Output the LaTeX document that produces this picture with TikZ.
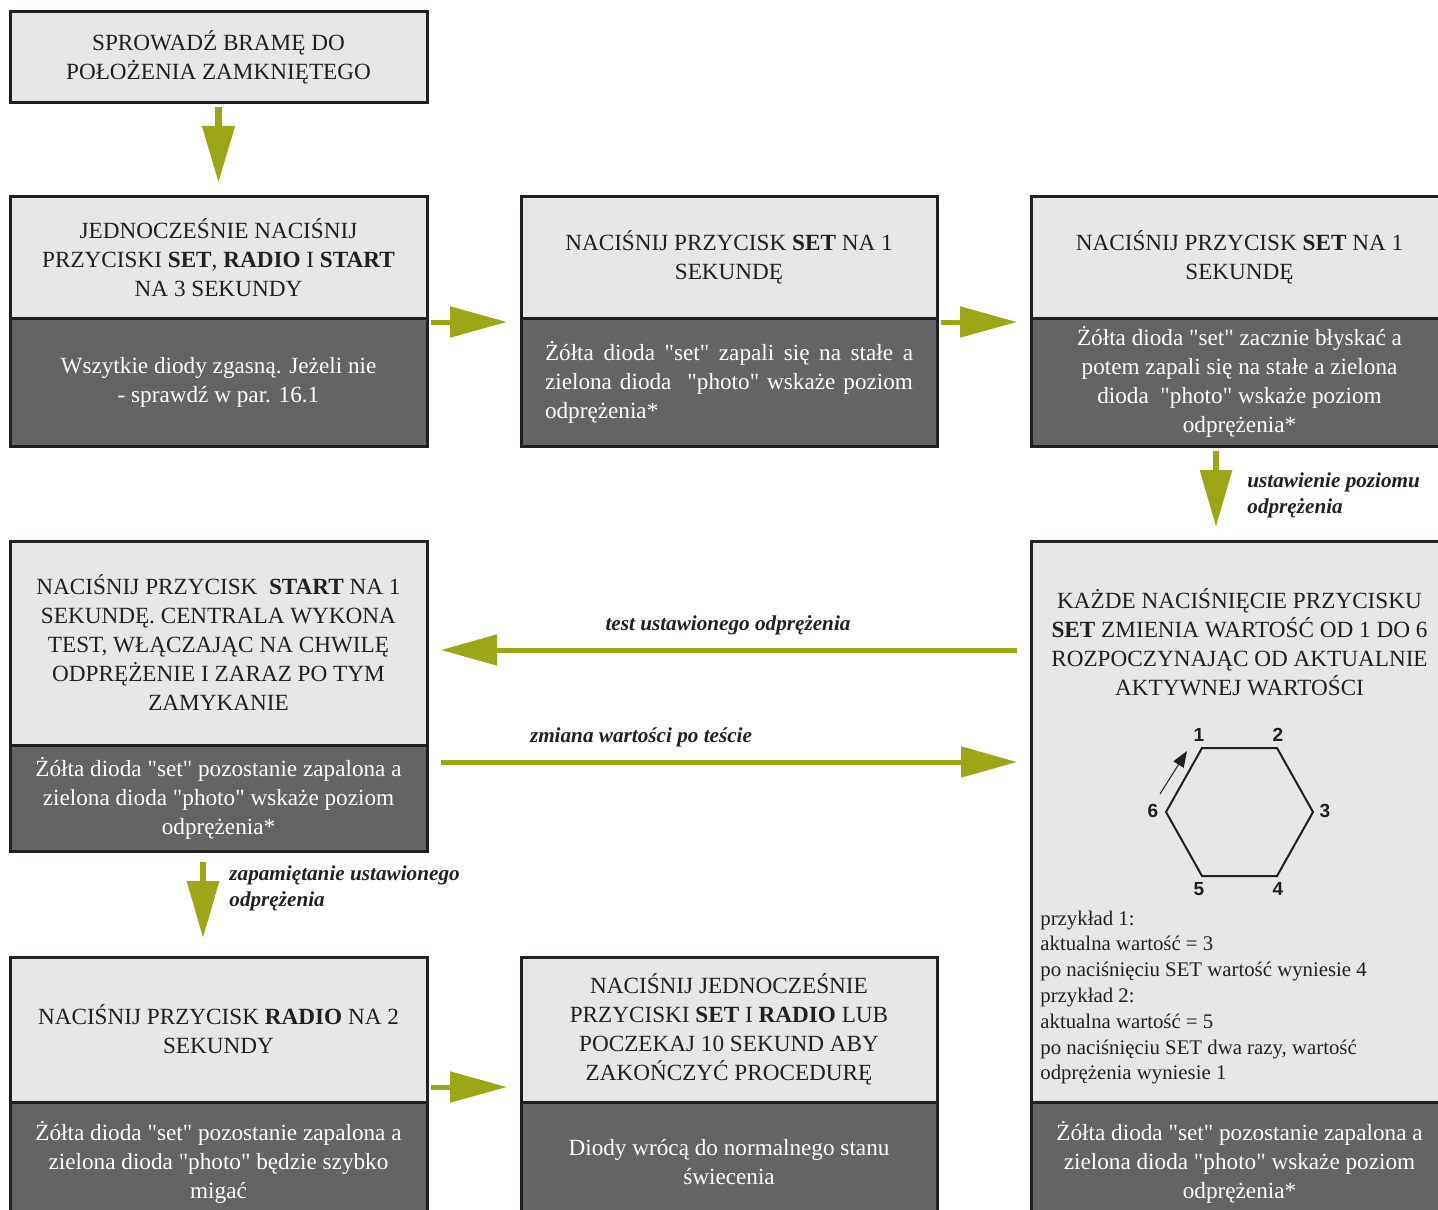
\documentclass[tikz,border=0pt]{standalone}
\usepackage{fontspec}
\setmainfont{Liberation Serif}[Ligatures=TeXOff]
\newfontfamily\hexfont{Liberation Sans}
\usetikzlibrary{arrows.meta}
\definecolor{lightbox}{HTML}{E6E7E8}
\definecolor{darkbox}{HTML}{636466}
\definecolor{edgec}{HTML}{231F20}
\definecolor{olive}{HTML}{9DA614}
\newcommand\mainsize{\fontsize{11.6}{14.5}\selectfont}
\newcommand\exsize{\fontsize{10.4}{12.9}\selectfont}
\newcommand\lblsize{\fontsize{10.6}{13}\selectfont}
\begin{document}
\begin{tikzpicture}[x=0.5pt,y=-0.5pt,
  box/.style={draw=edgec, line width=1.5pt, outer sep=0pt, inner sep=0pt, minimum width=208.5pt, align=center, font=\mainsize},
  topbox/.style={box, fill=lightbox, text=edgec},
  botbox/.style={box, fill=darkbox, text=white},
  harrow/.style={draw=olive, line width=2.5pt, -{Triangle[length=28.5pt,width=15pt]}},
  varrow/.style={draw=olive, line width=3.5pt, -{Triangle[length=28.5pt,width=15.5pt]}},
  bigarrow/.style={draw=olive, line width=2.5pt, -{Triangle[length=28pt,width=15pt]}},
  lbl/.style={font=\bfseries\itshape\lblsize, text=edgec, inner sep=0pt, align=left},
  hexnum/.style={font=\hexfont\bfseries\fontsize{9.5}{10}\selectfont, text=edgec, inner sep=0pt}
]
\useasboundingbox (0,0) rectangle (1438,1209);
\fill[white] (0,0) rectangle (1438,1209);
\clip (0,0) rectangle (1438,1209);

% row 1
\node[topbox, minimum height=45.5pt] (A) at (218.5,57.5) {SPROWADŹ BRAMĘ DO\\POŁOŻENIA ZAMKNIĘTEGO};

% row 2
\node[topbox, minimum height=60.5pt] (Btop) at (218.5,257.5) {JEDNOCZEŚNIE NACIŚNIJ\\PRZYCISKI \textbf{SET}, \textbf{RADIO} I \textbf{START}\\NA 3 SEKUNDY};
\node[botbox, minimum height=64pt] (Bbot) at (218.5,382) {Wszytkie diody zgasną. Jeżeli nie\\- sprawdź w par. 16.1};

\node[topbox, minimum width=208pt, minimum height=60.5pt] (Ctop) at (729,257.5) {NACIŚNIJ PRZYCISK \textbf{SET} NA 1\\SEKUNDĘ};
\node[botbox, minimum width=208pt, minimum height=64pt, text width=184pt, align=justify] (Cbot) at (729,382) {\noindent Żółta dioda "set" zapali się na stałe a\linebreak zielona dioda \ "photo" wskaże poziom\linebreak odprężenia*};

\node[topbox, minimum height=60.5pt] (Dtop) at (1239.5,257.5) {NACIŚNIJ PRZYCISK \textbf{SET} NA 1\\SEKUNDĘ};
\node[botbox, minimum height=64pt] (Dbot) at (1239.5,382) {Żółta dioda "set" zacznie błyskać a\\potem zapali się na stałe a zielona\\dioda \ "photo" wskaże poziom\\odprężenia*};

% row 3
\node[topbox, minimum height=102pt] (Ftop) at (218.5,643) {NACIŚNIJ PRZYCISK \ \textbf{START} NA 1\\SEKUNDĘ. CENTRALA WYKONA\\TEST, WŁĄCZAJĄC NA CHWILĘ\\ODPRĘŻENIE I ZARAZ PO TYM\\ZAMYKANIE};
\node[botbox, minimum height=53pt] (Fbot) at (218.5,798) {Żółta dioda "set" pozostanie zapalona a\\zielona dioda "photo" wskaże poziom\\odprężenia*};

\node[topbox, minimum height=280.5pt] (Etop) at (1239.5,821.5) {};
\node[font=\mainsize, text=edgec, align=center, inner sep=0pt] (Ehead) at (1239.5,642.5) {KAŻDE NACIŚNIĘCIE PRZYCISKU\\\textbf{SET} ZMIENIA WARTOŚĆ OD 1 DO 6\\ROZPOCZYNAJĄC OD AKTUALNIE\\AKTYWNEJ WARTOŚCI};
\node[font=\exsize, text=edgec, align=left, inner sep=0pt, anchor=west] (Eex) at (1040,997.5) {przykład 1:\\aktualna wartość = 3\\po naciśnięciu SET wartość wyniesie 4\\przykład 2:\\aktualna wartość = 5\\po naciśnięciu SET dwa razy, wartość\\odprężenia wyniesie 1};
\node[botbox, minimum height=60pt] (Ebot) at (1239.5,1162) {Żółta dioda "set" pozostanie zapalona a\\zielona dioda "photo" wskaże poziom\\odprężenia*};

% hexagon
\draw[edgec, line width=1pt, line join=miter] (1202,748) -- (1277,748) -- (1313,812) -- (1277,876) -- (1202,876) -- (1166,812) -- cycle;
\node[hexnum] (h1) at (1199,735) {1};
\node[hexnum] (h2) at (1278,735) {2};
\node[hexnum] (h3) at (1325,811) {3};
\node[hexnum] (h4) at (1278,889) {4};
\node[hexnum] (h5) at (1199,889) {5};
\node[hexnum] (h6) at (1153,811) {6};
\coordinate (hs) at (1160,794);
\coordinate (he) at (1187,751);
\draw[edgec, line width=0.5pt, -{Triangle[length=8pt,width=6pt]}] (hs) -- (he);

% row 4
\node[topbox, minimum height=72.5pt] (Gtop) at (218.5,1029.5) {NACIŚNIJ PRZYCISK \textbf{RADIO} NA 2\\SEKUNDY};
\node[botbox, minimum height=60pt] (Gbot) at (218.5,1162) {Żółta dioda "set" pozostanie zapalona a\\zielona dioda "photo" będzie szybko\\migać};

\node[topbox, minimum width=208pt, minimum height=72.5pt] (Htop) at (729,1029.5) {NACIŚNIJ JEDNOCZEŚNIE\\PRZYCISKI \textbf{SET} I \textbf{RADIO} LUB\\POCZEKAJ 10 SEKUND ABY\\ZAKOŃCZYĆ PROCEDURĘ};
\node[botbox, minimum width=208pt, minimum height=60pt] (Hbot) at (729,1162) {Diody wrócą do normalnego stanu\\świecenia};

% connectors
\draw[varrow, shorten <=2pt, shorten >=7pt] (A.south) -- (Btop.north);
\draw[harrow, shorten <=2pt, shorten >=7pt] ([yshift=-2pt]Btop.south east) -- ([yshift=-2pt]Ctop.south west);
\draw[harrow, shorten <=2pt, shorten >=7pt] ([yshift=-2pt]Ctop.south east) -- ([yshift=-2pt]Dtop.south west);
\draw[varrow, line width=3pt, shorten <=2.5pt, shorten >=7pt] ([xshift=-11.75pt]Dbot.south) -- ([xshift=-11.75pt]Etop.north);
\draw[bigarrow, shorten <=7pt, shorten >=7pt] ([yshift=85.75pt]Etop.west) -- ([yshift=-3.5pt]Ftop.east);
\draw[bigarrow, shorten <=7pt, shorten >=7pt] ([yshift=18pt]Fbot.east) -- ([yshift=29.75pt]Etop.west);
\draw[varrow, line width=3pt, shorten <=5.5pt, shorten >=9.5pt] ([xshift=-7.75pt]Fbot.south) -- ([xshift=-7.75pt]Gtop.north);
\draw[harrow, shorten <=2pt, shorten >=7pt] ([yshift=7.5pt]Gtop.south east) -- ([yshift=7.5pt]Htop.south west);

% connector labels
\node[lbl, anchor=west] (l1) at (1247,495) {ustawienie poziomu\\odprężenia};
\node[lbl] (l2) at (728,625) {test ustawionego odprężenia};
\node[lbl] (l3) at (641,737) {zmiana wartości po teście};
\node[lbl, anchor=west] (l4) at (229,888.5) {zapamiętanie ustawionego\\odprężenia};
\end{tikzpicture}
\end{document}
